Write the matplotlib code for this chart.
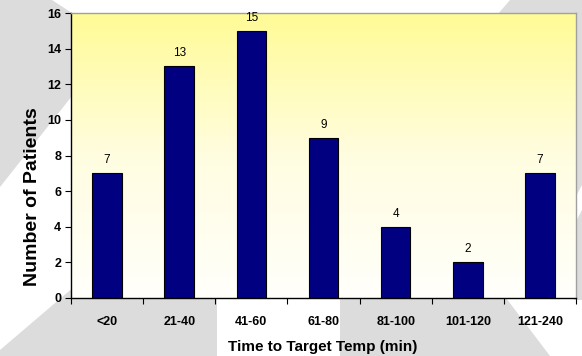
import numpy as np
import matplotlib
matplotlib.use("Agg")
import matplotlib.pyplot as plt
from matplotlib.patches import Polygon
from matplotlib.colors import LinearSegmentedColormap

plt.rcParams["font.family"] = ["Liberation Sans", "DejaVu Sans"]

categories = ["<20", "21-40", "41-60", "61-80", "81-100", "101-120", "121-240"]
patients = [7, 13, 15, 9, 4, 2, 7]
yticks = [0, 2, 4, 6, 8, 10, 12, 14, 16]

W, H = 582, 356
fig = plt.figure(figsize=(W / 100, H / 100), dpi=100)
fig.patch.set_facecolor("white")

# slide background: grey shapes with white diagonal bands (pixel coords, y down)
GREY = "#dcdcdc"
shapes = [
    [(0, 0), (52, 0), (72, 13), (72, 96), (0, 187)],
    [(0, 356), (0, 350), (75, 286), (217, 286), (217, 356)],
    [(340, 290), (500, 290), (550, 356), (340, 356)],
    [(510, 0), (582, 0), (582, 14), (498, 14)],
    [(574, 0), (582, 0), (582, 185), (574, 200)],
    [(574, 225), (582, 210), (582, 300), (574, 300)],
]
for pts in shapes:
    fig.patches.append(Polygon([(x / W, 1 - y / H) for x, y in pts], closed=True,
                               transform=fig.transFigure, facecolor=GREY,
                               edgecolor="none", zorder=0))

ax = fig.add_axes([71 / W, 1 - 298 / H, (576 - 71) / W, (298 - 13) / H])
ax.set_zorder(2)
ax.set_facecolor("none")

# yellow -> white vertical gradient in plot area
cmap = LinearSegmentedColormap.from_list("yel", ["#fffffb", "#fffde0", "#fffb96"])
grad = np.linspace(0, 1, 256).reshape(-1, 1)
ax.imshow(grad, cmap=cmap, origin="lower", aspect="auto",
          extent=[-0.5, 6.5, 0, 16], zorder=0)

x = np.arange(len(categories))
bars = ax.bar(x, patients, width=0.41, color="#000080", edgecolor="black",
              linewidth=0.8, zorder=2)
for xi, v in zip(x, patients):
    ax.annotate(str(v), (xi, v), xytext=(0, 5), textcoords="offset points",
                ha="center", va="bottom", fontsize=8.5)

ax.set_xlim(-0.5, 6.5)
ax.set_ylim(0, 16)
ax.set_yticks(yticks)
ax.set_yticklabels([str(t) for t in yticks], fontsize=9, fontweight="bold")
ax.set_xticks(x)
ax.set_xticklabels(categories, fontsize=9, fontweight="bold")
ax.set_xticks(np.arange(-0.5, 7, 1), minor=True)
ax.tick_params(axis="x", which="major", length=0, pad=13)
ax.tick_params(axis="x", which="minor", length=4, width=0.8, direction="out")
ax.tick_params(axis="y", length=4, width=0.8, direction="out", pad=3)

for s in ("left", "bottom"):
    ax.spines[s].set_color("black")
    ax.spines[s].set_linewidth(1.0)
for s in ("top", "right"):
    ax.spines[s].set_color("#a0a0a0")
    ax.spines[s].set_linewidth(1.0)

fig.text(33 / W, 1 - 197 / H, "Number of Patients", rotation=90, ha="center",
         va="center", fontsize=14, fontweight="bold", zorder=3)
fig.text(323 / W, 1 - 347 / H, "Time to Target Temp (min)", ha="center",
         va="center", fontsize=11, fontweight="bold", zorder=3)

fig.savefig("out.png", dpi=100)
